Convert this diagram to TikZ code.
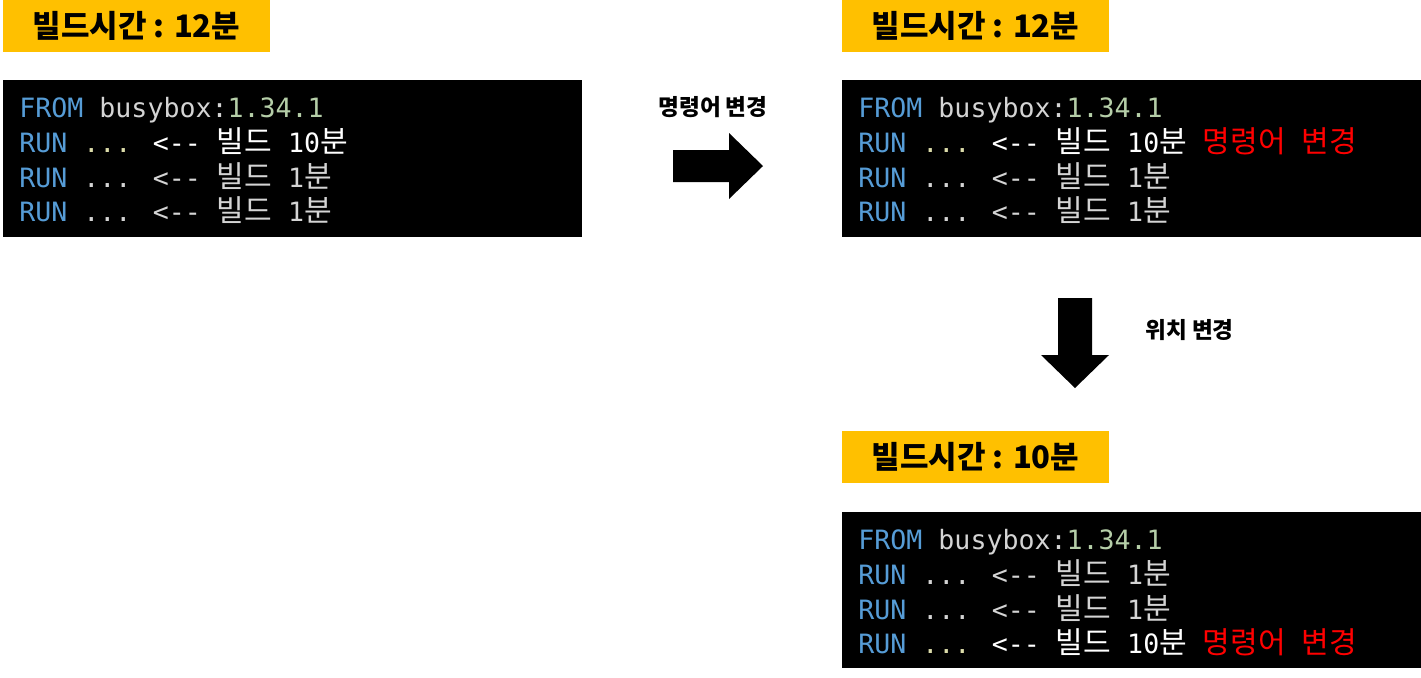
\documentclass[tikz,border=0pt]{standalone}
\usepackage{fontspec}
\usepackage{xcolor}
\newfontfamily\codefont{DejaVu Sans Mono}
\newfontfamily\krfont{Noto Sans CJK KR}
\newfontfamily\krcode{Noto Sans CJK KR}[Scale=1.13]
\definecolor{kwblue}{RGB}{86,156,214}
\definecolor{plaingray}{RGB}{212,212,212}
\definecolor{numgreen}{RGB}{181,206,168}
\definecolor{dotyellow}{RGB}{220,220,170}
\definecolor{titleyellow}{RGB}{255,192,0}
\newcommand{\kw}[1]{\textcolor{kwblue}{#1}}
\newcommand{\hg}[1]{{\krcode #1}}
\newcommand{\fromline}{\kw{FROM} busybox:\textcolor{numgreen}{1.34.1}}
\newcommand{\slowline}{\kw{RUN} \textcolor{dotyellow}{...} \textcolor{white}{<-- \hg{빌드} 10\hg{분}}}
\newcommand{\fastline}{\kw{RUN} ... <-- \hg{빌드} 1\hg{분}}
\newcommand{\changed}{ \textcolor{red}{\hg{명령어} \hg{변경}}}

\begin{document}
\begin{tikzpicture}[x=0.5pt, y=-0.5pt,
    every node/.style={inner sep=0pt},
    titlebox/.style={fill=titleyellow, minimum width=133.5pt, minimum height=26pt,
      font=\krfont\bfseries\fontsize{15.5}{18}\selectfont},
    codeline/.style={anchor=base west, text=plaingray,
      font=\codefont\fontsize{13.3}{16}\selectfont},
    steplabel/.style={font=\krfont\bfseries\fontsize{11.3}{13}\selectfont}]
  \useasboundingbox (0,0) rectangle (1421,677);

  % before
  \node[titlebox] (timeA) at (136.5,26) {빌드시간 : 12분};
  \fill[black] (3,80) rectangle (582,237);
  \node[codeline] (a1) at (19,117) {\fromline};
  \node[codeline] (a2) at (19,152) {\slowline};
  \node[codeline] (a3) at (19,187) {\fastline};
  \node[codeline] (a4) at (19,221) {\fastline};

  % command changed
  \node[titlebox] (timeB) at (975.5,26) {빌드시간 : 12분};
  \fill[black] (842,80) rectangle (1421,237);
  \node[codeline] (b1) at (858,117) {\fromline};
  \node[codeline] (b2) at (858,152) {\slowline\changed};
  \node[codeline] (b3) at (858,187) {\fastline};
  \node[codeline] (b4) at (858,221) {\fastline};

  % order changed
  \node[titlebox] (timeC) at (975.5,457) {빌드시간 : 10분};
  \fill[black] (842,512) rectangle (1421,668);
  \node[codeline] (c1) at (858,549) {\fromline};
  \node[codeline] (c2) at (858,584) {\fastline};
  \node[codeline] (c3) at (858,619) {\fastline};
  \node[codeline] (c4) at (858,653) {\slowline\changed};

  % block arrows
  \node[steplabel] (cmdlabel) at (713,107) {명령어 변경};
  \fill[black] (673,150) -- (729,150) -- (729,133) -- (763,166)
    -- (729,199) -- (729,182) -- (673,182) -- cycle;
  \node[steplabel, anchor=west] (poslabel) at (1145,330) {위치 변경};
  \fill[black] (1058,298) -- (1092,298) -- (1092,355) -- (1109,355)
    -- (1075,388) -- (1041,355) -- (1058,355) -- cycle;
\end{tikzpicture}
\end{document}
